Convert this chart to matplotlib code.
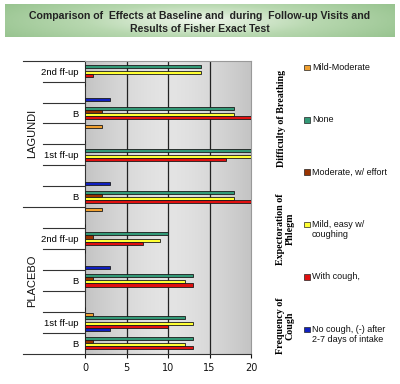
import matplotlib.pyplot as plt
import numpy as np
from matplotlib.patches import Rectangle
from matplotlib.transforms import blended_transform_factory

nan = np.nan

# category slots, top to bottom
slots = ['2nd ff-up', '', 'B', '', '1st ff-up', '', 'B',
         '', '2nd ff-up', '', 'B', '', '1st ff-up', 'B']
groups = ['LAGUNDI', 'PLACEBO']

series_names = ['Mild-Moderate', 'None', 'Moderate, w/ effort',
                'Mild, easy w/\ncoughing', 'With cough,',
                'No cough, (-) after\n2-7 days of intake']
mild_moderate = [nan, 0, nan, 2, nan, nan, nan, 2, nan, 0, nan, nan, 1, 0]
none_ = [14, nan, 18, nan, 20, nan, 18, nan, 10, nan, 13, nan, 12, 13]
moderate = [nan, nan, 2, nan, nan, nan, 2, nan, 1, nan, 1, nan, nan, 1]
mild_easy = [14, nan, 18, nan, 20, nan, 18, nan, 9, nan, 12, nan, 13, 12]
with_cough = [1, nan, 20, nan, 17, nan, 20, nan, 7, nan, 13, nan, 10, 13]
no_cough = [nan, 3, nan, 0, nan, 3, nan, 0, nan, 3, nan, 0, 3, nan]
series = [mild_moderate, none_, moderate, mild_easy, with_cough, no_cough]
colors = ['#F0A030', '#339977', '#993300', '#FFFF33', '#E01010', '#1020C0']

side_titles = ['Difficulty of Breathing', 'Expectoration of\nPhlegm', 'Frequency of\nCough']

W, H = 400, 384
fig = plt.figure(figsize=(4, 3.84), dpi=100)
fig.patch.set_facecolor('white')

# title band with green gradient
tax = fig.add_axes([5 / W, 1 - 37 / H, 390 / W, 33 / H])
gx = np.linspace(-1, 1, 200)
gy = np.linspace(-1, 1, 40)
gg = np.sqrt(gx[None, :] ** 2 + (gy[:, None] * 0.6) ** 2)
tax.imshow(gg, cmap=plt.matplotlib.colors.LinearSegmentedColormap.from_list(
    'g', ['#EEF6EA', '#B8D8B0', '#98C490']), aspect='auto', extent=[0, 1, 0, 1])
tax.set_axis_off()
fig.text(0.5, 1 - 16 / H, 'Comparison of  Effects at Baseline and  during  Follow-up Visits and',
         ha='center', va='center', fontsize=7.6, fontweight='bold', family='Liberation Sans', color='#222222')
fig.text(0.5, 1 - 28.5 / H, 'Results of Fisher Exact Test',
         ha='center', va='center', fontsize=7.6, fontweight='bold', family='Liberation Sans', color='#222222')

# plot area
ax = fig.add_axes([85 / W, 1 - 353.6 / H, 166 / W, 292.9 / H])
bg = np.abs(np.linspace(-1, 1, 200))[None, :] ** 1.5
ax.imshow(bg, cmap=plt.matplotlib.colors.LinearSegmentedColormap.from_list(
    'b', ['#E4E4E4', '#C4C4C4']), aspect='auto', extent=[0, 20, 14, 0], zorder=0)

n = len(slots)
h = 0.147
for k, (vals, c) in enumerate(zip(series, colors)):
    ypos = np.arange(n) + 0.133 + k * h
    ax.barh(ypos, vals, height=h, color=c, edgecolor='#1a1a1a', linewidth=0.6, zorder=3)

ax.set_xlim(0, 20)
ax.set_ylim(n, 0)
for xv in [5, 10, 15]:
    ax.axvline(xv, color='#222222', lw=0.9, zorder=1)
ax.set_xticks([0, 5, 10, 15, 20])
ax.tick_params(axis='x', labelsize=7, length=3, pad=4, colors='#111111')
ax.set_yticks(np.arange(n) + 0.5)
ax.set_yticklabels(slots, fontsize=6.8, family='Liberation Sans')
ax.tick_params(axis='y', length=0, pad=5)
for s in ['top', 'right']:
    ax.spines[s].set_color('#999999')
ax.spines['left'].set_color('#333333')
ax.spines['bottom'].set_color('#333333')

# multi-level category axis lines
tr = blended_transform_factory(ax.transAxes, ax.transData)
for b in range(n + 1):
    x0 = -0.375 if b in (0, 7, 14) else -0.253
    ax.plot([x0, 0], [b, b], color='#333333', lw=0.8, transform=tr, clip_on=False)
for gi, g in enumerate(groups):
    ax.text(-0.32, gi * 7 + 3.5, g, transform=tr, rotation=90, ha='center', va='center',
            fontsize=8, family='Liberation Sans', color='#111111')

# side titles
fig.text(281 / W, 1 - 118 / H, side_titles[0], rotation=90, ha='center', va='center',
         fontsize=7.2, fontweight='bold', family='Liberation Serif', linespacing=1.0)
fig.text(285 / W, 1 - 229 / H, side_titles[1], rotation=90, ha='center', va='center',
         fontsize=7.2, fontweight='bold', family='Liberation Serif', linespacing=1.1)
fig.text(285 / W, 1 - 326 / H, side_titles[2], rotation=90, ha='center', va='center',
         fontsize=7.2, fontweight='bold', family='Liberation Serif', linespacing=1.1)

# legend
for i, (name, c) in enumerate(zip(series_names, colors)):
    ytop = 67.3 + i * 52.4
    fig.patches.append(Rectangle((304 / W, 1 - (ytop + 2.8) / H), 5.5 / W, 5.5 / H,
                                 facecolor=c, edgecolor='#222222', lw=0.5,
                                 transform=fig.transFigure))
    fig.text(312 / W, 1 - (ytop - 4.5) / H, name, ha='left', va='top',
             fontsize=6.5, family='Liberation Sans', color='#111111', linespacing=1.15)

fig.savefig('out.png', dpi=100)
